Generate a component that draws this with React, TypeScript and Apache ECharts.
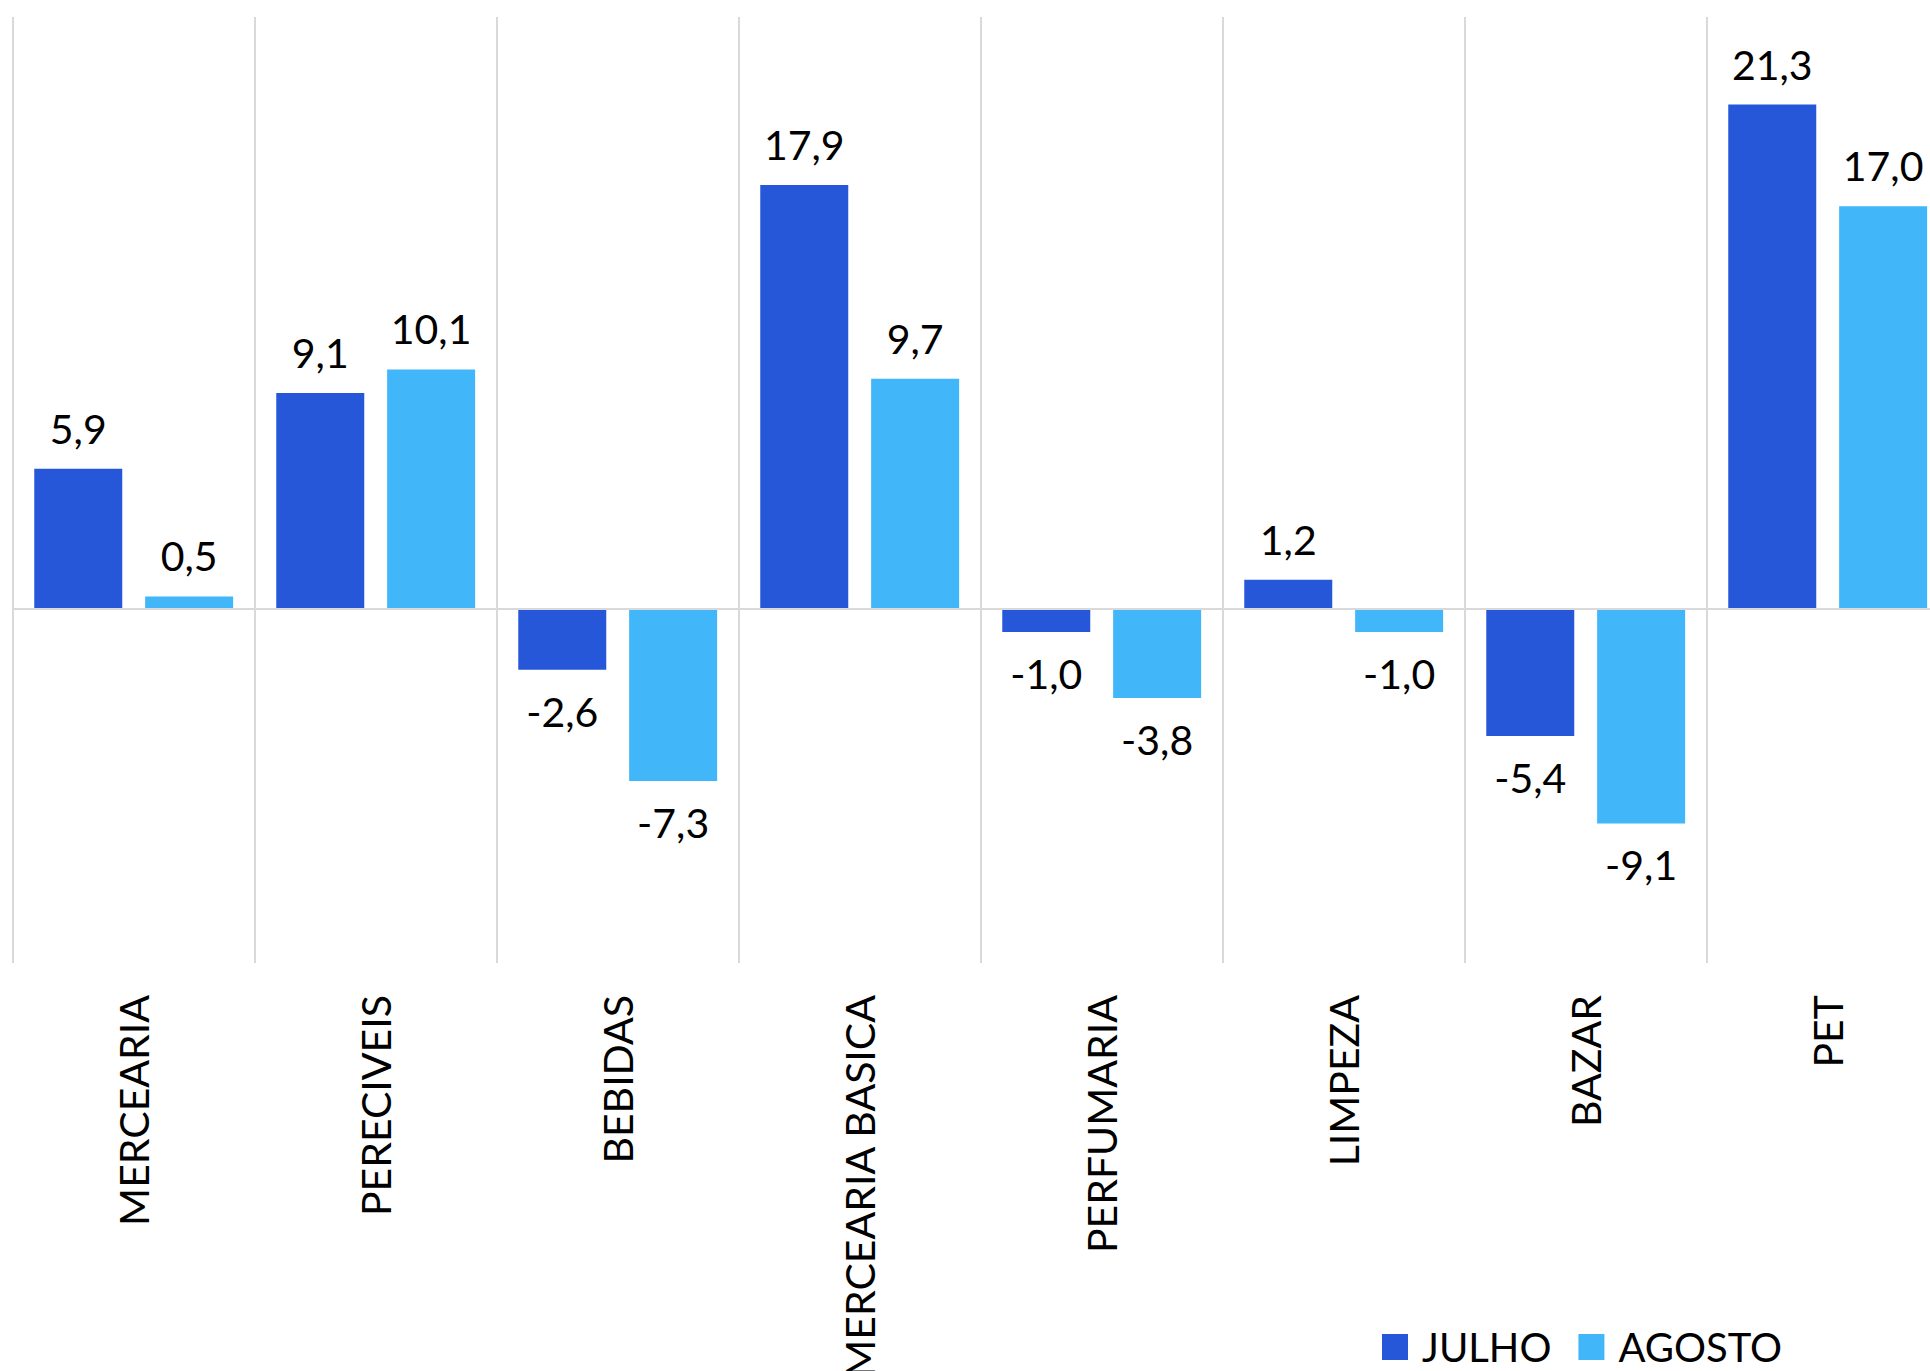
import React, { useEffect, useRef } from 'react';
import * as echarts from 'echarts';

const categories = ['MERCEARIA', 'PERECIVEIS', 'BEBIDAS', 'MERCEARIA BASICA', 'PERFUMARIA', 'LIMPEZA', 'BAZAR', 'PET'];
const julho = [5.9, 9.1, -2.6, 17.9, -1.0, 1.2, -5.4, 21.3];
const agosto = [0.5, 10.1, -7.3, 9.7, -3.8, -1.0, -9.1, 17.0];
const seriesNames = ['JULHO', 'AGOSTO'];
const colors = ['#2657D9', '#41B6F8'];
const yMin = -15;
const yMax = 25;

const FONT = 'Lato';

function toItems(vals: number[]) {
  return vals.map((v) => ({
    value: v,
    label: { position: v < 0 ? 'bottom' : 'top', distance: v < 0 ? 21 : 20 },
  }));
}

const fmt = (p: any) => Number(p.value).toFixed(1).replace('.', ',');

export default function App() {
  const ref = useRef<HTMLDivElement>(null);
  useEffect(() => {
    if (!ref.current) return;
    const chart = echarts.init(ref.current, undefined, { renderer: 'svg' });
    const labelStyle = {
      show: true,
      formatter: fmt,
      fontFamily: FONT,
      fontSize: 41,
      color: '#000',
    };
    chart.setOption({
      animation: false,
      backgroundColor: '#fff',
      grid: {
        left: 12.7,
        top: 17,
        width: 1936,
        height: 946,
        containLabel: false,
        outerBoundsMode: 'none',
      },
      legend: {
        data: seriesNames,
        left: 1377,
        top: 1322,
        icon: 'rect',
        itemWidth: 26,
        itemHeight: 26,
        itemGap: 27,
        textStyle: { fontFamily: FONT, fontSize: 40, color: '#000', padding: [0, 0, 0, 9] },
      },
      xAxis: {
        type: 'category',
        data: categories,
        position: 'bottom',
        axisLine: { show: false, onZero: false },
        axisTick: { show: false },
        splitLine: { show: true, lineStyle: { color: '#d9d9d9', width: 2 } },
        axisLabel: {
          interval: 0,
          rotate: 90,
          margin: 32,
          fontFamily: FONT,
          fontSize: 41,
          color: '#000',
        },
      },
      yAxis: {
        type: 'value',
        min: yMin,
        max: yMax,
        show: false,
        splitLine: { show: false },
      },
      series: [
        {
          name: seriesNames[0],
          type: 'bar',
          data: toItems(julho),
          barWidth: 88,
          barGap: '26%',
          itemStyle: { color: colors[0] },
          label: labelStyle,
          markLine: {
            silent: true,
            symbol: 'none',
            label: { show: false },
            lineStyle: { color: '#d9d9d9', width: 2, type: 'solid' },
            data: [{ yAxis: 0 }],
          },
        },
        {
          name: seriesNames[1],
          type: 'bar',
          data: toItems(agosto),
          barWidth: 88,
          barGap: '26%',
          itemStyle: { color: colors[1] },
          label: labelStyle,
        },
      ],
    });
    return () => chart.dispose();
  }, []);
  return (
    <div
      ref={ref}
      style={{ position: 'absolute', left: 0, top: 0, width: 1930, height: 1371, background: '#fff' }}
    />
  );
}
